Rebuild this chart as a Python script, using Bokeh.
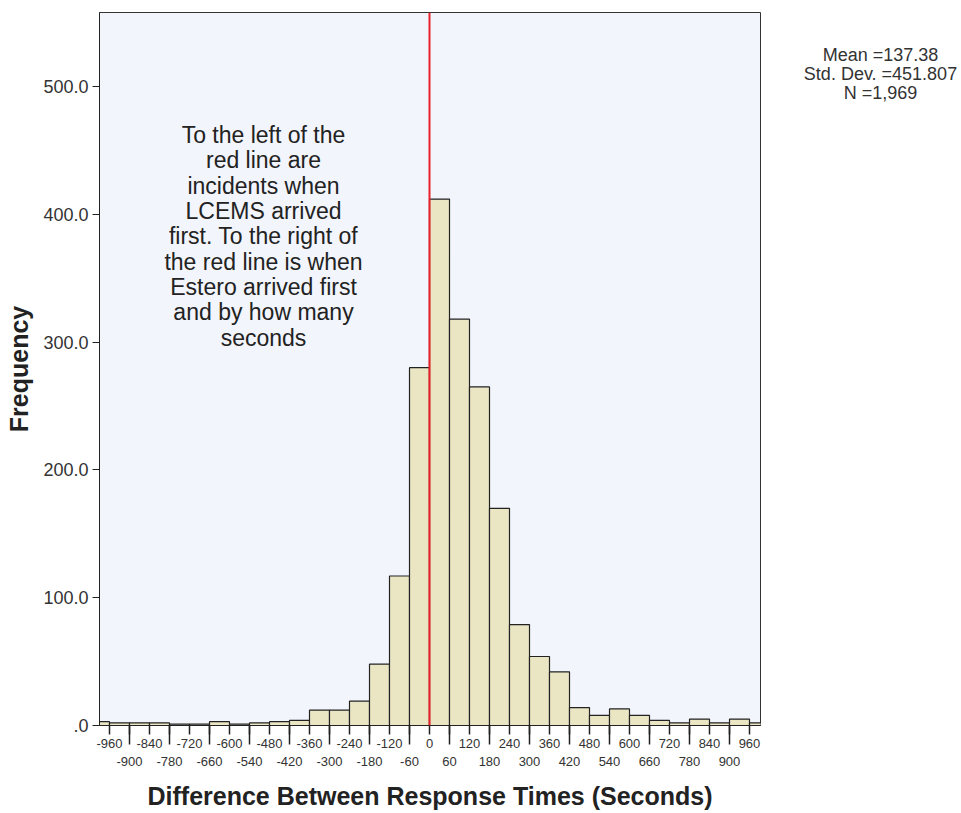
from bokeh.plotting import figure
from bokeh.layouts import row
from bokeh.models import ColumnDataSource, FixedTicker, Span, Range1d
from bokeh.core.properties import value
from bokeh.embed import file_html
from bokeh.resources import INLINE

# ---- data ----
bin_width = 60
bin_left = list(range(-1020, 1020, 60))
counts = [3, 2, 2, 2, 1, 1, 3, 1, 2, 3, 4,
          12, 12, 19, 48, 117, 280,
          412, 318, 265, 170, 79, 54, 42, 14, 8, 13, 8, 4, 2, 5, 2, 5, 2]
upper_row_ticks = list(range(-960, 961, 120))
lower_row_ticks = list(range(-900, 901, 120))
y_ticks = [0, 100, 200, 300, 400, 500]
y_tick_labels = [".0", "100.0", "200.0", "300.0", "400.0", "500.0"]
stats_lines = ["Mean =137.38", "Std. Dev. =451.807", "N =1,969"]
note_lines = ["To the left of the", "red line are", "incidents when", "LCEMS arrived",
              "first. To the right of", "the red line is when", "Estero arrived first",
              "and by how many", "seconds"]

FONT = "Liberation Sans"
NARROW = "Liberation Sans Narrow, Arial Narrow, Liberation Sans"
H = 812

src = ColumnDataSource(dict(
    left=bin_left,
    right=[b + bin_width for b in bin_left],
    top=counts,
    bottom=[0] * len(counts),
))

p = figure(width=763, height=H, output_backend="svg", toolbar_location=None,
           x_range=Range1d(-990, 993), y_range=Range1d(0, 558),
           min_border_left=99, min_border_right=3, min_border_top=12, min_border_bottom=85)

p.background_fill_color = "#F2F5FB"
p.border_fill_color = "white"
p.outline_line_color = "#333333"
p.outline_line_width = 1
p.xgrid.visible = False
p.ygrid.visible = False

p.quad(left="left", right="right", top="top", bottom="bottom", source=src,
       fill_color="#EAE6C4", line_color="#222222", line_width=1.2)

p.add_layout(Span(location=0, dimension="height", line_color="#E8202A", line_width=2))

# note text inside plot
note_y0 = 462
note_step = 19.8
note_src = ColumnDataSource(dict(
    x=[-498] * len(note_lines),
    y=[note_y0 - i * note_step for i in range(len(note_lines))],
    t=note_lines,
))
p.text(x="x", y="y", text="t", source=note_src, text_align="center", text_baseline="middle",
       text_font=value(FONT), text_font_size="23px", text_color="#222222")

# y axis
yax = p.yaxis[0]
yax.ticker = FixedTicker(ticks=y_ticks, minor_ticks=[])
yax.major_label_overrides = {t: l for t, l in zip(y_ticks, y_tick_labels)}
yax.major_tick_in = 0
yax.major_tick_out = 7
yax.minor_tick_out = 0
yax.major_tick_line_color = "#222222"
yax.axis_line_color = "#222222"
yax.major_label_text_font = FONT
yax.major_label_text_font_size = "18px"
yax.major_label_text_color = "#333333"
yax.major_label_standoff = 4
yax.axis_label = "Frequency"
yax.axis_label_text_font = FONT
yax.axis_label_text_font_style = "bold"
yax.axis_label_text_font_size = "25px"
yax.axis_label_text_color = "#222222"
yax.axis_label_standoff = 7

# x axis: two rows of labels, long ticks for the lower row
xax = p.xaxis[0]
all_ticks = sorted(upper_row_ticks + lower_row_ticks)
xax.ticker = FixedTicker(ticks=all_ticks, minor_ticks=lower_row_ticks)
overrides = {t: str(t) for t in upper_row_ticks}
overrides.update({t: "\n" + str(t) for t in lower_row_ticks})
xax.major_label_overrides = overrides
xax.major_tick_in = 0
xax.minor_tick_in = 0
xax.major_tick_out = 9
xax.minor_tick_out = 19
xax.major_tick_line_color = "#222222"
xax.minor_tick_line_color = "#222222"
xax.major_tick_line_width = 1.5
xax.minor_tick_line_width = 1.5
xax.axis_line_color = "#222222"
xax.major_label_text_font = NARROW
xax.major_label_text_font_size = "13px"
xax.major_label_text_line_height = 1.2
xax.major_label_text_color = "#333333"
xax.major_label_standoff = -9
xax.axis_label = "Difference Between Response Times (Seconds)"
xax.axis_label_text_font = FONT
xax.axis_label_text_font_style = "bold"
xax.axis_label_text_font_size = "25px"
xax.axis_label_text_color = "#222222"
xax.axis_label_standoff = 10

# side panel with the summary statistics
P2W = 195
p2 = figure(width=P2W, height=H, output_backend="svg", toolbar_location=None,
            x_range=Range1d(0, P2W), y_range=Range1d(0, H),
            x_axis_location=None, y_axis_location=None,
            min_border_left=0, min_border_right=0, min_border_top=0, min_border_bottom=0)
p2.outline_line_color = None
p2.background_fill_color = "white"
p2.border_fill_color = "white"
p2.xgrid.visible = False
p2.ygrid.visible = False
stats_src = ColumnDataSource(dict(
    x=[117] * len(stats_lines),
    y=[H - 48.5 - i * 21.5 for i in range(len(stats_lines))],
    t=stats_lines,
))
p2.text(x="x", y="y", text="t", source=stats_src, text_align="center", text_baseline="middle",
        text_font=value(FONT), text_font_size="18px", text_color="#333333")

layout = row(p, p2)
open("out.html", "w").write(file_html(layout, INLINE))
